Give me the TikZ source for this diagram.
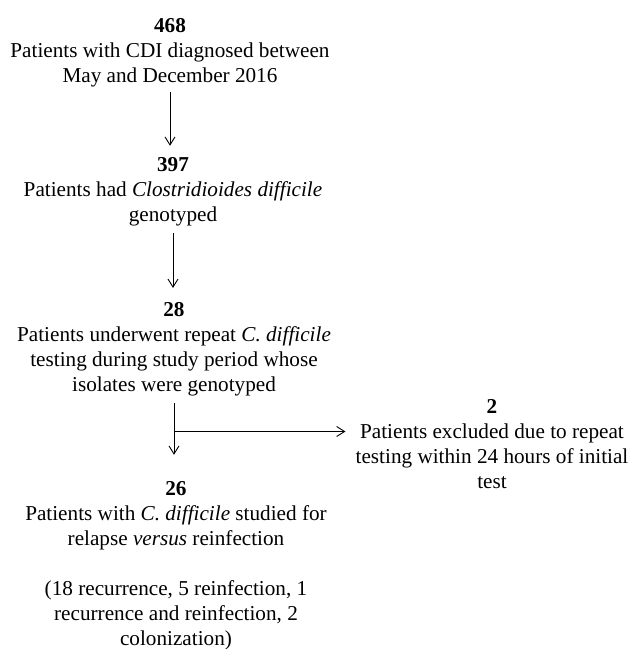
\documentclass[tikz,border=0pt]{standalone}
\usepackage{fontspec}
\setmainfont{Liberation Serif}
\usetikzlibrary{arrows.meta}
\begin{document}
\begin{tikzpicture}[x=1pt,y=-1pt,
  blk/.style={align=center,inner sep=0pt,anchor=base,font=\fontsize{21.2}{25}\selectfont},
  arr/.style={draw,line width=0.9pt,-{Straight Barb[length=8pt,width=10pt,line width=0.9pt]}},
  ln/.style={draw,line width=0.9pt}]
\useasboundingbox (0,0) rectangle (633,649);
\fill[white] (0,0) rectangle (633,649);
\node[blk] (n1) at (170,82) {\textbf{468}\\Patients with CDI diagnosed between\\May and December 2016};
\node[blk] (n2) at (173,221) {\textbf{397}\\Patients had \textit{Clostridioides difficile}\\genotyped};
\node[blk] (n3) at (174,391) {\textbf{28}\\Patients underwent repeat \textit{C. difficile}\\testing during study period whose\\isolates were genotyped};
\node[blk] (n4) at (492,488) {\textbf{2}\\Patients excluded due to repeat\\testing within 24 hours of initial\\test};
\node[blk] (n5) at (176,645) {\textbf{26}\\Patients with \textit{C. difficile} studied for\\relapse \textit{versus} reinfection\\[25pt](18 recurrence, 5 reinfection, 1\\recurrence and reinfection, 2\\colonization)};
\draw[arr,shorten <=5.5pt,shorten >=11pt] (n1.south) -- (n1.south |- n2.north);
\draw[arr,shorten <=7.4pt,shorten >=13.8pt] (n2.south) -- (n2.south |- n3.north);
\draw[arr,shorten <=7.4pt,shorten >=26pt] (n3.south) -- (n3.south |- n5.north);
\coordinate (split) at (n3.south |- 0,431.5);
\draw[arr,shorten >=10pt] (split) -- (split -| n4.west);
\end{tikzpicture}
\end{document}
